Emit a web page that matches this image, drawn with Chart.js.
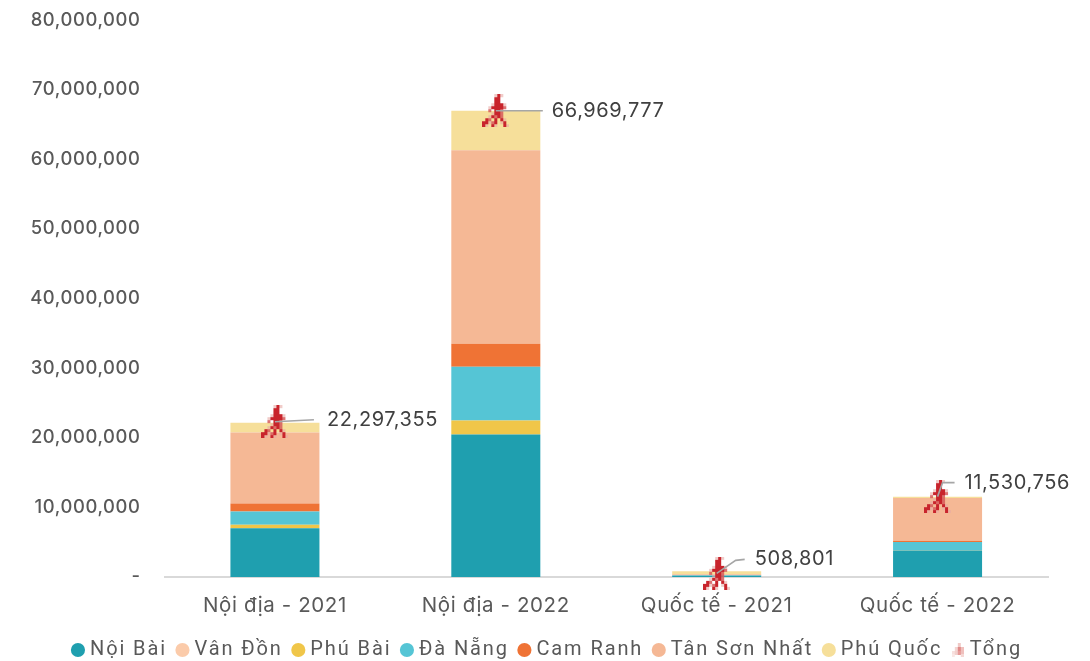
<!DOCTYPE html>
<html>
<head>
<meta charset="utf-8">
<script src="https://cdn.jsdelivr.net/npm/chart.js@4"></script>
<style>html,body{margin:0;padding:0;background:#fff}#w{width:1090px;height:661px}</style>
</head>
<body>
<div id="w"><canvas id="c"></canvas></div>
<script>
const categories = ['Nội địa - 2021','Nội địa - 2022','Quốc tế - 2021','Quốc tế - 2022'];
const noiBai     = [7000000, 20450000, 150000, 3800000];
const vanDon     = [0, 0, 0, 0];
const phuBai     = [500000, 2000000, 20000, 20000];
const daNang     = [1900000, 7750000, 60000, 1200000];
const camRanh    = [1150000, 3300000, 30000, 180000];
const tanSonNhat = [10200000, 27800000, 130000, 6150000];
const phuQuoc    = [1400000, 5670000, 420000, 180000];
const tong       = [22297355, 66969777, 508801, 11530756];
const yTicks     = [0,10000000,20000000,30000000,40000000,50000000,60000000,70000000,80000000];

const FIG = [
"....pRp..",
"....RR...",
"....RR...",
"...pRRRp.",
"..pRRRRr.",
"..r.RRr..",
"...pRRr..",
"..pRrRr..",
".Rr.R.Rp.",
"RRprR.pR.",
"Rp.Rp..Rp"];
function figure(cell, alpha){
  const cv = document.createElement('canvas');
  cv.width = FIG[0].length*cell; cv.height = FIG.length*cell;
  const g = cv.getContext('2d');
  const col = {R:'rgba(200,36,44,'+alpha+')', r:'rgba(214,90,90,'+alpha*0.85+')', p:'rgba(232,170,165,'+alpha*0.6+')'};
  FIG.forEach((row,y)=>[...row].forEach((ch,x)=>{
    if(col[ch]){g.fillStyle=col[ch];g.fillRect(x*cell,y*cell,cell,cell);}
  }));
  return cv;
}
const marker = figure(3,1);
const legendMarker = (()=>{
  const cv=document.createElement('canvas');cv.width=12;cv.height=14;
  const g=cv.getContext('2d');
  const cells=[[6,0,'#f0c9c6'],[3,4,'#f3d5d2'],[6,4,'#e08a88'],[9,4,'#f0c0bd'],[0,8,'#f7e0de'],[3,8,'#f2d0cd'],[6,8,'#e69a98'],[9,8,'#efc0bd'],[0,11,'#f9e8e6'],[9,11,'#f5d8d5']];
  cells.forEach(c=>{g.fillStyle=c[2];g.fillRect(c[0],c[1],3,4);});
  return cv;
})();

const leaders = [
  {pts:[[39,-2]], tx:52, ty:-2},
  {pts:[[47,0]], tx:56, ty:0},
  {pts:[[19,-13],[28,-14]], tx:38, ty:-14},
  {pts:[[5,-14],[17,-14]], tx:27, ty:-14}
];
const fmt = v => v.toLocaleString('en-US');
const BASE_SPACING='0.6px', LEGEND_SPACING='1.9px';
const LEGEND_DX=25, LEGEND_DY=-9;

const LegendEl = Chart.registry.plugins.get('legend')._element;
const origFit = LegendEl.prototype.fit, origDraw = LegendEl.prototype.draw;
LegendEl.prototype.fit = function(){
  const g=this.ctx, prev=g.letterSpacing;
  g.letterSpacing=LEGEND_SPACING;
  origFit.call(this);
  g.letterSpacing=prev;
};
LegendEl.prototype.draw = function(){
  const g=this.ctx, prev=g.letterSpacing;
  g.letterSpacing=LEGEND_SPACING;
  this.left+=LEGEND_DX; this.right+=LEGEND_DX; this.top+=LEGEND_DY; this.bottom+=LEGEND_DY;
  origDraw.call(this);
  this.left-=LEGEND_DX; this.right-=LEGEND_DX; this.top-=LEGEND_DY; this.bottom-=LEGEND_DY;
  g.letterSpacing=prev;
};

const leaderPlugin = {
  id:'leaderPlugin',
  beforeLayout(chart){chart.ctx.letterSpacing=BASE_SPACING;},
  beforeDraw(chart){chart.ctx.letterSpacing=BASE_SPACING;},
  afterDatasetsDraw(chart){
    const ds = chart.data.datasets.length-1;
    const meta = chart.getDatasetMeta(ds);
    const g = chart.ctx;
    g.save();
    meta.data.forEach((pt,i)=>{
      const L = leaders[i];
      g.beginPath(); g.moveTo(pt.x,pt.y);
      L.pts.forEach(p=>g.lineTo(pt.x+p[0],pt.y+p[1]));
      g.strokeStyle='#a6a6a6'; g.lineWidth=1.6; g.stroke();
      g.fillStyle='#404040';
      g.font='20px Inter, "Open Sans", sans-serif';
      g.textAlign='left'; g.textBaseline='middle';
      g.fillText(fmt(tong[i]),pt.x+L.tx,pt.y+L.ty);
    });
    g.restore();
  }
};

const bar = (label,data,color)=>({type:'bar',label,data,backgroundColor:color,borderWidth:0,stack:'a',barPercentage:0.403,categoryPercentage:1,pointStyle:'circle',order:2});

new Chart(document.getElementById('c'),{
  data:{labels:categories,datasets:[
    bar('Nội Bài',noiBai,'#1F9FAF'),
    bar('Vân Đồn',vanDon,'#FBCBAA'),
    bar('Phú Bài',phuBai,'#F0C649'),
    bar('Đà Nẵng',daNang,'#55C5D5'),
    bar('Cam Ranh',camRanh,'#EF7335'),
    bar('Tân Sơn Nhất',tanSonNhat,'#F5B895'),
    bar('Phú Quốc',phuQuoc,'#F6DF9A'),
    {type:'line',label:'Tổng',data:tong,stack:'t',showLine:false,pointStyle:marker,pointRadius:14,backgroundColor:'#c9252c',borderColor:'#c9252c',clip:false,order:1}
  ]},
  options:{
    responsive:true,maintainAspectRatio:false,animation:false,
    layout:{padding:{top:20,right:42,left:0,bottom:-18}},
    scales:{
      x:{stacked:true,grid:{display:false,drawTicks:false},border:{color:'#d9d9d9',width:2},
         ticks:{color:'#595959',font:{size:20.5,family:'Inter, "Open Sans", sans-serif'},padding:17,maxRotation:0}},
      y:{stacked:true,min:0,max:80000000,grid:{display:false,drawTicks:false},border:{display:false},
         afterFit(s){s.width=164.5;s.paddingTop=0;s.paddingBottom=0;},
         afterBuildTicks(s){s.ticks=yTicks.map(v=>({value:v}));},
         ticks:{color:'#595959',font:{size:18.4,family:'Inter, "Open Sans", sans-serif',weight:'500'},padding:24,
                callback:v=>v===0?'-':fmt(v)}}
    },
    plugins:{
      tooltip:{enabled:false},
      legend:{position:'bottom',labels:{color:'#595959',font:{size:20,family:'Roboto, sans-serif'},usePointStyle:true,boxWidth:4,boxHeight:10,padding:13.5,
        generateLabels(chart){
          return chart.data.datasets.map((d,i)=>({text:d.label,fontColor:'#595959',fillStyle:d.backgroundColor,strokeStyle:d.backgroundColor,lineWidth:0,pointStyle:i===7?legendMarker:'circle',datasetIndex:i}));
        }}}
    }
  },
  plugins:[leaderPlugin]
});
</script>
</body>
</html>
